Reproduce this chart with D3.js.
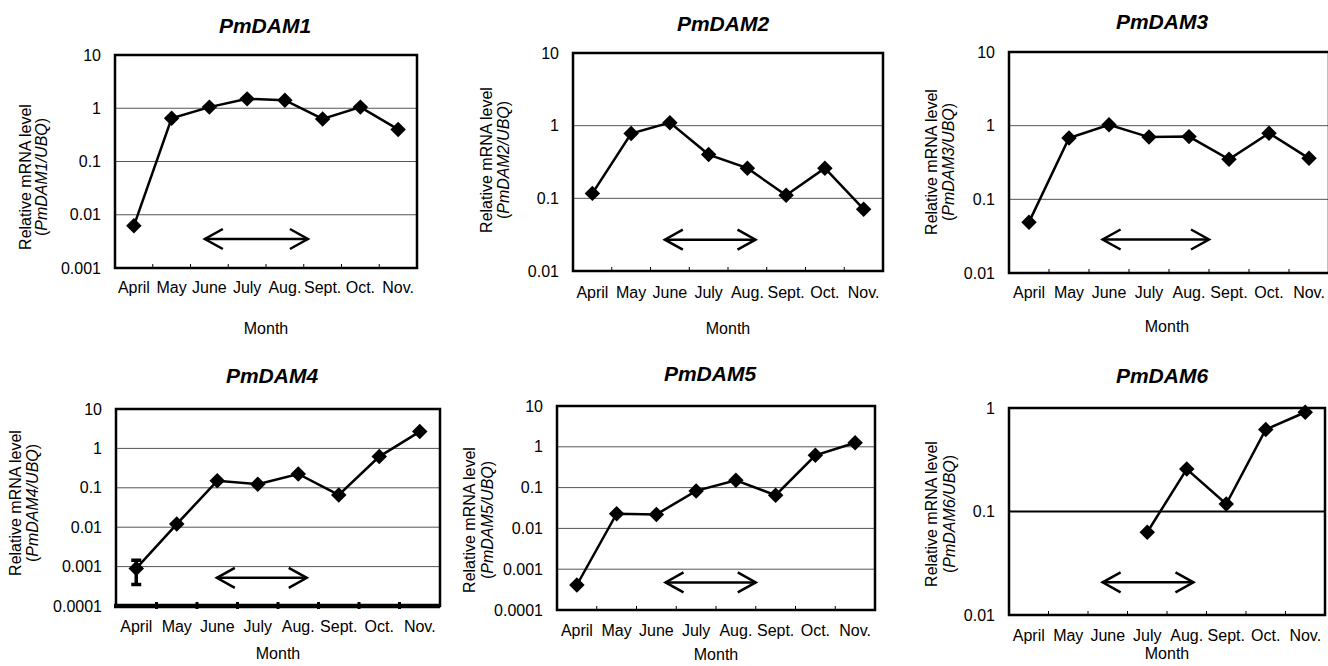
<!DOCTYPE html>
<html>
<head>
<meta charset="utf-8">
<script src="https://cdn.jsdelivr.net/npm/d3@7"></script>
<style>
  body { margin: 0; background: #fff; }
  svg { display: block; font-family: "Liberation Sans", Arial, sans-serif; }
</style>
</head>
<body>
<svg id="chart" width="1328" height="666"></svg>
<script>
// month categories shared by all panels
const months = ["April", "May", "June", "July", "Aug.", "Sept.", "Oct.", "Nov."];

// relative mRNA level per gene (null = not detected)
const dam1 = [0.0062, 0.65, 1.05, 1.5, 1.42, 0.63, 1.05, 0.40];
const dam2 = [0.117, 0.78, 1.10, 0.40, 0.26, 0.11, 0.26, 0.071];
const dam3 = [0.049, 0.68, 1.03, 0.70, 0.71, 0.35, 0.79, 0.36];
const dam4 = [0.0009, 0.012, 0.15, 0.123, 0.224, 0.066, 0.62, 2.67];
const dam5 = [0.00041, 0.023, 0.022, 0.083, 0.151, 0.065, 0.62, 1.26];
const dam6 = [null, null, null, 0.063, 0.257, 0.118, 0.62, 0.91];

// standard deviations (only PmDAM4 April is visible outside the marker)
const dam4Err = [0.00055, 0, 0, 0, 0, 0, 0, 0];

// y-axis tick values
const ticks1 = [0.001, 0.01, 0.1, 1, 10];
const ticks2 = [0.01, 0.1, 1, 10];
const ticks4 = [0.0001, 0.001, 0.01, 0.1, 1, 10];
const ticks6 = [0.01, 0.1, 1];

// double arrow: [start, end] in month units (0 = left edge of April), y value
const arrow1 = [2.38, 5.11, 0.0035];
const arrow2 = [2.37, 4.71, 0.027];
const arrow3 = [2.34, 5.0, 0.0285];
const arrow4 = [2.49, 4.71, 0.00052];
const arrow5 = [2.73, 5.0, 0.000475];
const arrow6 = [2.37, 4.67, 0.0207];

const panels = [
  { gene: "PmDAM1", values: dam1, ticks: ticks1, arrow: arrow1,
    left: 115, right: 417, top: 55, bottom: 268,
    titleX: 265, titleY: 27, monthY: 287, axisTitleY: 330, labX: [27, 43], labY: 177 },
  { gene: "PmDAM2", values: dam2, ticks: ticks2, arrow: arrow2,
    left: 573, right: 883, top: 53, bottom: 271,
    titleX: 723, titleY: 25, monthY: 292, axisTitleY: 330, labX: [488, 505], labY: 160 },
  { gene: "PmDAM3", values: dam3, ticks: ticks2, arrow: arrow3,
    left: 1009, right: 1329, top: 52, bottom: 273,
    titleX: 1162, titleY: 23, monthY: 292, axisTitleY: 328, labX: [933, 950], labY: 162 },
  { gene: "PmDAM4", values: dam4, err: dam4Err, ticks: ticks4, arrow: arrow4,
    left: 116, right: 440, top: 409, bottom: 606, heavyBase: true,
    titleX: 272, titleY: 377, monthY: 626, axisTitleY: 655, labX: [17, 34], labY: 503 },
  { gene: "PmDAM5", values: dam5, ticks: ticks4, arrow: arrow5,
    left: 557, right: 875, top: 406, bottom: 610,
    titleX: 710, titleY: 375, monthY: 630, axisTitleY: 656, labX: [471, 489], labY: 520 },
  { gene: "PmDAM6", values: dam6, ticks: ticks6, arrow: arrow6,
    left: 1009, right: 1325, top: 408, bottom: 615, heavyGrid: true,
    titleX: 1162, titleY: 377, monthY: 635, axisTitleY: 655, labX: [933, 951], labY: 514 }
];

const font = "Liberation Sans, Arial, sans-serif";
const svg = d3.select("#chart");

const drawPanel = (p) => {
  const g = svg.append("g");
  const ticks = p.ticks;

  const x = d3.scaleBand().domain(months).range([p.left, p.right]);
  const y = d3.scaleLog().domain([ticks[0], ticks[ticks.length - 1]]).range([p.bottom, p.top]);
  const bw = x.bandwidth();
  const cx = m => x(m) + bw / 2;

  // gridlines
  g.selectAll(".grid")
    .data(ticks.slice(1, -1))
    .join("line")
    .attr("x1", p.left).attr("x2", p.right)
    .attr("y1", d => y(d)).attr("y2", d => y(d))
    .attr("stroke", p.heavyGrid ? "#000" : "#555")
    .attr("stroke-width", p.heavyGrid ? 2 : 1);

  // y tick labels
  const yAxis = g.append("g")
    .attr("transform", `translate(${p.left},0)`)
    .call(d3.axisLeft(y).tickValues(ticks).tickFormat(d => String(d)).tickSize(0).tickPadding(14));
  yAxis.select(".domain").remove();
  yAxis.selectAll("text").attr("font-size", 16).attr("font-family", font).attr("fill", "#000");

  // month labels
  const xAxis = g.append("g")
    .attr("transform", `translate(0,${p.bottom})`)
    .call(d3.axisBottom(x).tickSize(0));
  xAxis.select(".domain").remove();
  xAxis.selectAll("text")
    .attr("y", p.monthY - p.bottom).attr("dy", "0.35em")
    .attr("font-size", 16).attr("font-family", font).attr("fill", "#000");

  // category boundary ticks
  g.selectAll(".sep")
    .data(months.slice(1))
    .join("line")
    .attr("x1", d => x(d)).attr("x2", d => x(d))
    .attr("y1", p.bottom - 4).attr("y2", p.heavyBase ? p.bottom + 3 : p.bottom)
    .attr("stroke", "#000")
    .attr("stroke-width", p.heavyBase ? 3 : 1);

  // plot frame
  g.append("rect")
    .attr("x", p.left).attr("y", p.top)
    .attr("width", p.right - p.left).attr("height", p.bottom - p.top)
    .attr("fill", "none").attr("stroke", "#000").attr("stroke-width", 2.5);
  if (p.heavyBase) {
    g.append("line")
      .attr("x1", p.left - 2).attr("x2", p.right)
      .attr("y1", p.bottom).attr("y2", p.bottom)
      .attr("stroke", "#000").attr("stroke-width", 4.5);
  }

  // double arrow
  const [a0, a1, av] = p.arrow;
  const ax0 = p.left + a0 * bw, ax1 = p.left + a1 * bw, ay = y(av);
  const arrowG = g.append("g").attr("fill", "none").attr("stroke", "#000").attr("stroke-width", 2.5);
  arrowG.append("line").attr("x1", ax0).attr("x2", ax1).attr("y1", ay).attr("y2", ay);
  arrowG.append("path").attr("d", `M${ax0 + 18},${ay - 10}L${ax0},${ay}L${ax0 + 18},${ay + 10}`);
  arrowG.append("path").attr("d", `M${ax1 - 18},${ay - 10}L${ax1},${ay}L${ax1 - 18},${ay + 10}`);

  const pts = months.map((m, i) => ({ m, v: p.values[i], e: p.err ? p.err[i] : 0 }))
    .filter(d => d.v != null);

  // error bars
  const errPts = pts.filter(d => d.e > 0);
  g.selectAll(".err")
    .data(errPts)
    .join("path")
    .attr("d", d => {
      const x0 = cx(d.m), yt = y(d.v + d.e), yb = y(Math.max(d.v - d.e, ticks[0]));
      return `M${x0 - 5},${yt}H${x0 + 5}M${x0},${yt}V${yb}M${x0 - 5},${yb}H${x0 + 5}`;
    })
    .attr("fill", "none").attr("stroke", "#000").attr("stroke-width", 3.5);

  // series line
  g.append("path")
    .datum(pts)
    .attr("d", d3.line().x(d => cx(d.m)).y(d => y(d.v)))
    .attr("fill", "none").attr("stroke", "#000").attr("stroke-width", 2.5);

  // diamond markers
  g.selectAll(".mk")
    .data(pts)
    .join("path")
    .attr("d", d3.symbol(d3.symbolSquare, 120))
    .attr("transform", d => `translate(${cx(d.m)},${y(d.v)}) rotate(45)`)
    .attr("fill", "#000");

  // panel title
  g.append("text")
    .attr("x", p.titleX).attr("y", p.titleY)
    .attr("text-anchor", "middle").attr("dominant-baseline", "middle")
    .attr("font-size", 21).attr("font-weight", "bold").attr("font-style", "italic")
    .text(p.gene);

  // x axis title
  g.append("text")
    .attr("x", (p.left + Math.min(p.right, 1325)) / 2).attr("y", p.axisTitleY)
    .attr("text-anchor", "middle").attr("dominant-baseline", "middle")
    .attr("font-size", 16)
    .text("Month");

  // y axis title, two lines
  g.append("text")
    .attr("transform", `translate(${p.labX[0]},${p.labY}) rotate(-90)`)
    .attr("text-anchor", "middle").attr("dominant-baseline", "middle")
    .attr("font-size", 16)
    .text("Relative mRNA level");
  const l2 = g.append("text")
    .attr("transform", `translate(${p.labX[1]},${p.labY}) rotate(-90)`)
    .attr("text-anchor", "middle").attr("dominant-baseline", "middle")
    .attr("font-size", 16);
  l2.append("tspan").text("(");
  l2.append("tspan").attr("font-style", "italic").text(`${p.gene}/UBQ`);
  l2.append("tspan").text(")");
};

panels.forEach(drawPanel);
</script>
</body>
</html>
